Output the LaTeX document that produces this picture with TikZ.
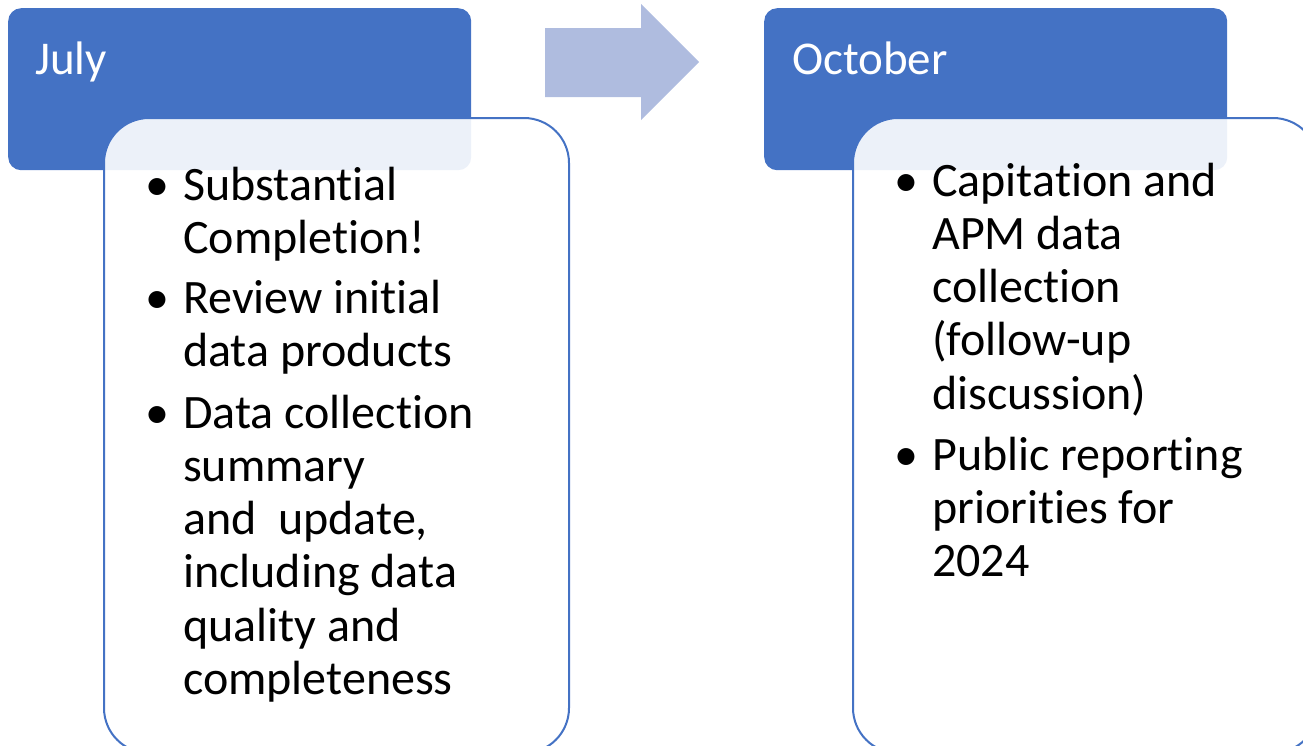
\documentclass[tikz,border=0pt]{standalone}
\usepackage{fontspec}
\setmainfont{Carlito}[Ligatures=NoCommon]
\usetikzlibrary{positioning}

\definecolor{hdrblue}{RGB}{68,114,196}
\definecolor{arrowblue}{RGB}{175,188,223}

\begin{document}
\begin{tikzpicture}[x=1pt, y=-1pt,
    month/.style = {fill=hdrblue, rounded corners=13pt, anchor=north west, inner sep=0pt,
                    minimum width=463pt, minimum height=162pt},
    monthname/.style = {anchor=base west, inner sep=0pt, text=white, font=\fontsize{47}{53}\selectfont},
    card/.style = {draw=hdrblue, line width=2pt, fill=white, fill opacity=0.9,
                   rounded corners=45pt, anchor=north west, inner sep=0pt,
                   minimum width=465pt, minimum height=635pt},
    % base of a multi-line node is its last line
    point/.style = {anchor=base west, inner sep=0pt, align=left, font=\fontsize{48}{53.3}\selectfont},
    dot/.style = {anchor=base east, inner sep=0pt, font=\fontsize{48}{53.3}\selectfont}]
    \clip (0,0) rectangle (1303,745);

    % headers
    \node[month] (jul) at (8,8) {};
    \node[month] (oct) at (764,8) {};
    \node[monthname] (julname) at (35,74) {July};
    \node[monthname] (octname) at (792,74) {October};

    % arrow between the two months
    \fill[arrowblue] (545,28) -- (641,28) -- (641,4) -- (699,62) -- (641,120) -- (641,97) -- (545,97) -- cycle;

    % cards
    \node[card] (julcard) at (103,117) {};
    \node[card] (octcard) at (852,117) {};

    % July items
    \node[point] (j1) at (183,253.3) {Substantial\\Completion!};
    \node[point] (j2) at (183,366.3) {Review initial\\data products};
    \node[point] (j3) at (183,694.5) {Data collection\\summary\\and~ update,\\including data\\quality and\\completeness};
    \node[dot] (j1d) at (170,200) {\textbullet};
    \node[dot] (j2d) at (170,313) {\textbullet};
    \node[dot] (j3d) at (170,428) {\textbullet};

    % October items
    \node[point] (o1) at (932,409.2) {Capitation and\\APM data\\collection\\(follow-up\\discussion)};
    \node[point] (o2) at (932,576.6) {Public reporting\\priorities for\\2024};
    \node[dot] (o1d) at (919,196) {\textbullet};
    \node[dot] (o2d) at (919,470) {\textbullet};
\end{tikzpicture}
\end{document}
